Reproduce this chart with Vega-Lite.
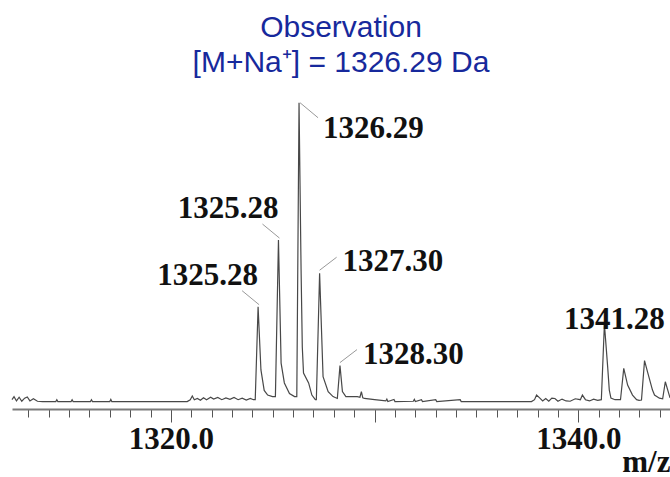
{
  "$schema": "https://vega.github.io/schema/vega-lite/v6.json",
  "autosize": {"type": "none"},
  "width": 658,
  "height": 310,
  "padding": {"left": 12, "top": 99, "right": 0, "bottom": 68},
  "background": "white",
  "title": {
    "text": ["Observation", "[M+Na⁺] = 1326.29 Da"],
    "font": "Liberation Sans",
    "fontSize": 30,
    "fontWeight": "normal",
    "color": "#17299c",
    "lineHeight": 35,
    "anchor": "middle",
    "offset": 21
  },
  "config": {"view": {"stroke": null}},
  "datasets": {
    "spectrum": [
      {"mz": 1312.2, "intensity": 3.0}, {"mz": 1312.3, "intensity": 4.0}, {"mz": 1312.42, "intensity": 2.6},
      {"mz": 1312.55, "intensity": 3.8}, {"mz": 1312.68, "intensity": 2.5}, {"mz": 1312.82, "intensity": 3.5},
      {"mz": 1312.95, "intensity": 3.9}, {"mz": 1313.08, "intensity": 2.6}, {"mz": 1313.25, "intensity": 3.3},
      {"mz": 1313.45, "intensity": 2.5}, {"mz": 1313.7, "intensity": 2.4}, {"mz": 1314.35, "intensity": 2.4},
      {"mz": 1314.4, "intensity": 3.0}, {"mz": 1314.45, "intensity": 2.4}, {"mz": 1315.1, "intensity": 2.4},
      {"mz": 1315.15, "intensity": 3.0}, {"mz": 1315.2, "intensity": 2.4}, {"mz": 1316.05, "intensity": 2.4},
      {"mz": 1316.1, "intensity": 3.0}, {"mz": 1316.15, "intensity": 2.4}, {"mz": 1317.0, "intensity": 2.4},
      {"mz": 1317.05, "intensity": 3.1}, {"mz": 1317.1, "intensity": 2.4}, {"mz": 1318.5, "intensity": 2.4},
      {"mz": 1320.8, "intensity": 2.4}, {"mz": 1320.95, "intensity": 3.0}, {"mz": 1321.05, "intensity": 4.2},
      {"mz": 1321.15, "intensity": 3.0}, {"mz": 1321.3, "intensity": 3.4}, {"mz": 1321.45, "intensity": 2.8},
      {"mz": 1321.6, "intensity": 3.6}, {"mz": 1321.75, "intensity": 3.0}, {"mz": 1321.95, "intensity": 3.8},
      {"mz": 1322.1, "intensity": 3.2}, {"mz": 1322.3, "intensity": 3.7}, {"mz": 1322.5, "intensity": 3.0},
      {"mz": 1322.7, "intensity": 3.6}, {"mz": 1322.9, "intensity": 3.1}, {"mz": 1323.1, "intensity": 3.7},
      {"mz": 1323.3, "intensity": 3.0}, {"mz": 1323.5, "intensity": 3.5}, {"mz": 1323.7, "intensity": 2.9},
      {"mz": 1323.9, "intensity": 3.4}, {"mz": 1324.05, "intensity": 3.0},
      {"mz": 1324.14, "intensity": 3.0}, {"mz": 1324.28, "intensity": 33.0}, {"mz": 1324.42, "intensity": 12.6},
      {"mz": 1324.58, "intensity": 6.0}, {"mz": 1324.75, "intensity": 4.5}, {"mz": 1324.99, "intensity": 4.0},
      {"mz": 1325.13, "intensity": 4.0}, {"mz": 1325.28, "intensity": 54.5}, {"mz": 1325.41, "intensity": 14.8},
      {"mz": 1325.57, "intensity": 8.4}, {"mz": 1325.82, "intensity": 5.0}, {"mz": 1326.07, "intensity": 4.0},
      {"mz": 1326.18, "intensity": 4.0}, {"mz": 1326.29, "intensity": 98.8}, {"mz": 1326.39, "intensity": 45.0},
      {"mz": 1326.45, "intensity": 20.0}, {"mz": 1326.51, "intensity": 11.6}, {"mz": 1326.76, "intensity": 8.4},
      {"mz": 1326.92, "intensity": 4.5}, {"mz": 1327.09, "intensity": 3.0},
      {"mz": 1327.14, "intensity": 3.0}, {"mz": 1327.3, "intensity": 43.8}, {"mz": 1327.47, "intensity": 10.4},
      {"mz": 1327.72, "intensity": 5.6}, {"mz": 1327.96, "intensity": 4.0}, {"mz": 1328.17, "intensity": 3.4},
      {"mz": 1328.3, "intensity": 14.0}, {"mz": 1328.42, "intensity": 5.6}, {"mz": 1328.59, "intensity": 4.0},
      {"mz": 1329.15, "intensity": 4.0}, {"mz": 1329.28, "intensity": 3.8}, {"mz": 1329.35, "intensity": 5.6},
      {"mz": 1329.42, "intensity": 3.6}, {"mz": 1329.5, "intensity": 3.4}, {"mz": 1330.0, "intensity": 3.0},
      {"mz": 1330.55, "intensity": 2.6}, {"mz": 1330.6, "intensity": 3.2}, {"mz": 1330.65, "intensity": 2.4},
      {"mz": 1330.95, "intensity": 3.1}, {"mz": 1331.0, "intensity": 2.4}, {"mz": 1331.9, "intensity": 2.5},
      {"mz": 1331.95, "intensity": 3.1}, {"mz": 1332.0, "intensity": 2.4}, {"mz": 1332.3, "intensity": 3.0},
      {"mz": 1332.35, "intensity": 2.4}, {"mz": 1333.0, "intensity": 3.0}, {"mz": 1333.05, "intensity": 2.4},
      {"mz": 1334.2, "intensity": 3.0}, {"mz": 1334.25, "intensity": 2.4}, {"mz": 1336.0, "intensity": 2.4},
      {"mz": 1337.7, "intensity": 2.4}, {"mz": 1337.85, "intensity": 3.0}, {"mz": 1337.95, "intensity": 4.5},
      {"mz": 1338.1, "intensity": 3.6}, {"mz": 1338.25, "intensity": 2.6}, {"mz": 1338.4, "intensity": 3.4},
      {"mz": 1338.55, "intensity": 2.5}, {"mz": 1338.7, "intensity": 3.5}, {"mz": 1338.85, "intensity": 3.4},
      {"mz": 1339.0, "intensity": 2.5}, {"mz": 1339.2, "intensity": 3.2}, {"mz": 1339.4, "intensity": 2.6},
      {"mz": 1339.6, "intensity": 2.5}, {"mz": 1339.85, "intensity": 3.3}, {"mz": 1340.1, "intensity": 3.0},
      {"mz": 1340.2, "intensity": 4.5}, {"mz": 1340.35, "intensity": 3.0}, {"mz": 1340.55, "intensity": 2.6},
      {"mz": 1340.75, "intensity": 3.2}, {"mz": 1340.95, "intensity": 2.8}, {"mz": 1341.13, "intensity": 3.0},
      {"mz": 1341.28, "intensity": 27.4}, {"mz": 1341.44, "intensity": 13.6}, {"mz": 1341.52, "intensity": 6.1},
      {"mz": 1341.6, "intensity": 3.5}, {"mz": 1341.8, "intensity": 3.0}, {"mz": 1342.07, "intensity": 3.0},
      {"mz": 1342.23, "intensity": 13.1}, {"mz": 1342.42, "intensity": 7.7}, {"mz": 1342.66, "intensity": 4.5},
      {"mz": 1342.86, "intensity": 3.0}, {"mz": 1342.98, "intensity": 2.8}, {"mz": 1343.1, "intensity": 2.9},
      {"mz": 1343.25, "intensity": 15.6}, {"mz": 1343.4, "intensity": 11.9}, {"mz": 1343.64, "intensity": 6.1},
      {"mz": 1343.74, "intensity": 4.5}, {"mz": 1343.98, "intensity": 3.5}, {"mz": 1344.14, "intensity": 3.3},
      {"mz": 1344.27, "intensity": 8.8}, {"mz": 1344.43, "intensity": 5.2}, {"mz": 1344.5, "intensity": 3.6}
    ],
    "peaks": [
      {"mz": 1324.28, "intensity": 33.0, "label": "1325.28"},
      {"mz": 1325.28, "intensity": 54.5, "label": "1325.28"},
      {"mz": 1326.29, "intensity": 98.8, "label": "1326.29"},
      {"mz": 1327.3, "intensity": 43.8, "label": "1327.30"},
      {"mz": 1328.3, "intensity": 14.0, "label": "1328.30"},
      {"mz": 1341.28, "intensity": 27.4, "label": "1341.28"}
    ]
  },
  "encoding": {
    "x": {
      "field": "mz",
      "type": "quantitative",
      "scale": {"domain": [1312.2, 1344.5], "nice": false, "zero": false},
      "axis": {
        "values": [1313, 1314, 1315, 1316, 1317, 1318, 1319, 1320, 1321, 1322, 1323, 1324, 1325, 1326, 1327, 1328, 1329, 1330, 1331, 1332, 1333, 1334, 1335, 1336, 1337, 1338, 1339, 1340, 1341, 1342, 1343, 1344],
        "labelExpr": "datum.value % 20 === 0 ? format(datum.value, '.1f') : ''",
        "labelFont": "Liberation Serif",
        "labelFontWeight": "bold",
        "labelFontSize": 31,
        "labelColor": "#111111",
        "labelBaseline": "alphabetic",
        "labelPadding": 26,
        "labelOverlap": false,
        "labelFlush": false,
        "tickColor": "#555555",
        "tickWidth": 1,
        "tickSize": {"condition": {"test": "datum.value % 10 === 0", "value": 13}, "value": 8},
        "domainColor": "#7a7a7a",
        "domainWidth": 2,
        "grid": false,
        "title": "m/z",
        "titleFont": "Liberation Serif",
        "titleFontWeight": "bold",
        "titleFontSize": 31,
        "titleColor": "#111111",
        "titleAlign": "right",
        "titleAnchor": "end",
        "titleBaseline": "alphabetic",
        "titleX": 658,
        "titleY": 62
      }
    },
    "y": {
      "field": "intensity",
      "type": "quantitative",
      "scale": {"domain": [0, 100], "nice": false},
      "axis": null
    }
  },
  "layer": [
    {
      "data": {"name": "spectrum"},
      "mark": {"type": "line", "color": "#484848", "strokeWidth": 1.2, "interpolate": "linear"}
    },
    {
      "data": {"name": "peaks"},
      "transform": [{"filter": "datum.mz < 1326"}],
      "mark": {"type": "rule", "color": "#999999", "strokeWidth": 1, "xOffset": -16, "yOffset": -16, "x2Offset": 1, "y2Offset": -2},
      "encoding": {"x2": {"field": "mz"}, "y2": {"field": "intensity"}}
    },
    {
      "data": {"name": "peaks"},
      "transform": [{"filter": "datum.mz > 1326 && datum.mz < 1327"}],
      "mark": {"type": "rule", "color": "#999999", "strokeWidth": 1, "xOffset": 1, "yOffset": 0, "x2Offset": 19, "y2Offset": 15},
      "encoding": {"x2": {"field": "mz"}, "y2": {"field": "intensity"}}
    },
    {
      "data": {"name": "peaks"},
      "transform": [{"filter": "datum.mz > 1327 && datum.mz < 1330"}],
      "mark": {"type": "rule", "color": "#999999", "strokeWidth": 1, "xOffset": 0, "yOffset": -3, "x2Offset": 17, "y2Offset": -16},
      "encoding": {"x2": {"field": "mz"}, "y2": {"field": "intensity"}}
    },
    {
      "data": {"name": "peaks"},
      "transform": [{"filter": "datum.mz < 1326"}],
      "mark": {"type": "text", "font": "Liberation Serif", "fontWeight": "bold", "fontSize": 31, "color": "#111111", "align": "right", "baseline": "alphabetic", "dx": 0, "dy": -22},
      "encoding": {"text": {"field": "label"}}
    },
    {
      "data": {"name": "peaks"},
      "transform": [{"filter": "datum.mz > 1326 && datum.mz < 1327"}],
      "mark": {"type": "text", "font": "Liberation Serif", "fontWeight": "bold", "fontSize": 31, "color": "#111111", "align": "left", "baseline": "alphabetic", "dx": 24, "dy": 35},
      "encoding": {"text": {"field": "label"}}
    },
    {
      "data": {"name": "peaks"},
      "transform": [{"filter": "datum.mz > 1327 && datum.mz < 1330"}],
      "mark": {"type": "text", "font": "Liberation Serif", "fontWeight": "bold", "fontSize": 31, "color": "#111111", "align": "left", "baseline": "alphabetic", "dx": 23, "dy": -2},
      "encoding": {"text": {"field": "label"}}
    },
    {
      "data": {"name": "peaks"},
      "transform": [{"filter": "datum.mz > 1340"}],
      "mark": {"type": "text", "font": "Liberation Serif", "fontWeight": "bold", "fontSize": 31, "color": "#111111", "align": "center", "baseline": "alphabetic", "dx": 10, "dy": 5},
      "encoding": {"text": {"field": "label"}}
    }
  ]
}
